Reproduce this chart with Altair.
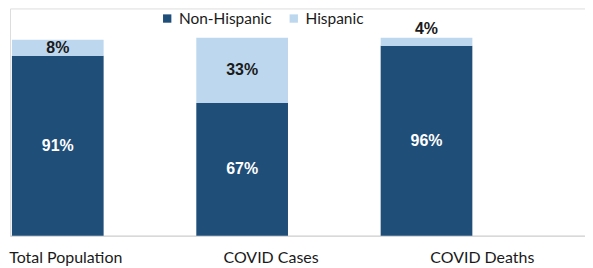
import altair as alt
import pandas as pd

categories = ["Total Population", "COVID Cases", "COVID Deaths"]
non_hispanic = [91, 67, 96]
hispanic = [8, 33, 4]
groups = ["Non-Hispanic", "Hispanic"]
colors = ["#1f4e79", "#bdd7ee"]
label_shift = [8, 29, 56]

rows = []
for i, c in enumerate(categories):
    nh, h = non_hispanic[i], hispanic[i]
    rows.append(dict(cat=c, group="Non-Hispanic", value=nh, y0=0, y1=nh,
                     mid=nh / 2, label=f"{nh}%", above=False))
    rows.append(dict(cat=c, group="Hispanic", value=h, y0=nh, y1=nh + h,
                     mid=nh + h / 2, label=f"{h}%", above=h < 6))
df = pd.DataFrame(rows)

xscale = alt.Scale(domain=categories, paddingInner=0.5027, paddingOuter=0.3108, align=0.017)
yscale = alt.Scale(domain=[0, 114.86], nice=False, zero=True)

offset_cond = {
    "condition": [
        {"test": f"datum.value == '{categories[1]}'", "value": label_shift[1]},
        {"test": f"datum.value == '{categories[2]}'", "value": label_shift[2]},
    ],
    "value": label_shift[0],
}

x = alt.X("cat:N", scale=xscale, sort=categories, title=None,
          axis=alt.Axis(labelAngle=0, labelFont="Lato", labelFontSize=16, labelColor="#1a1a1a",
                        ticks=False, domainColor="#d9d9d9", domainWidth=1.5, labelPadding=14,
                        labelOffset=offset_cond))

bars = alt.Chart(df).mark_bar().encode(
    x=x,
    y=alt.Y("y0:Q", scale=yscale, axis=None),
    y2="y1:Q",
    color=alt.Color("group:N", scale=alt.Scale(domain=groups, range=colors),
                    legend=alt.Legend(title=None, orient="none", direction="horizontal",
                                      legendX=150, legendY=2, symbolType="square",
                                      symbolSize=70, labelFont="Lato", labelFontSize=15.5,
                                      labelColor="#1a1a1a", columnPadding=14,
                                      symbolStrokeWidth=0)),
)

inside = alt.Chart(df).transform_filter("!datum.above").mark_text(
    font="Liberation Sans", fontWeight="bold", fontSize=16, baseline="middle"
).encode(
    x=alt.X("cat:N", scale=xscale, sort=categories),
    y=alt.Y("mid:Q", scale=yscale),
    text="label:N",
    color=alt.Color("group:N", scale=alt.Scale(domain=groups, range=["#ffffff", "#1a1a1a"]), legend=None),
)

above = alt.Chart(df).transform_filter("datum.above").mark_text(
    font="Liberation Sans", fontWeight="bold", fontSize=16, baseline="bottom", dy=-1, color="#1a1a1a"
).encode(
    x=alt.X("cat:N", scale=xscale, sort=categories),
    y=alt.Y("y1:Q", scale=yscale),
    text="label:N",
)

chart = alt.layer(bars, inside, above).resolve_scale(color="independent").properties(
    width=577, height=228, padding=0
).configure_view(stroke=None).configure(background="white")

chart.save("out.html", embed_options={"renderer": "svg", "actions": False})
